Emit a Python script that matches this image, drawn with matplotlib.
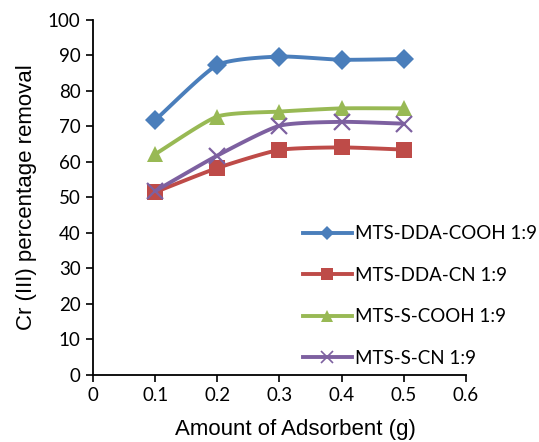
import numpy as np
import matplotlib
matplotlib.use("Agg")
import matplotlib.pyplot as plt

amount = [0.1, 0.2, 0.3, 0.4, 0.5]
dda_cooh = [71.8, 87.3, 89.7, 88.8, 89.0]
dda_cn = [51.5, 58.3, 63.4, 64.1, 63.5]
s_cooh = [62.2, 72.8, 74.2, 75.1, 75.1]
s_cn = [51.8, 61.8, 70.2, 71.3, 70.8]

labels = ['MTS-DDA-COOH 1:9', 'MTS-DDA-CN 1:9', 'MTS-S-COOH 1:9', 'MTS-S-CN 1:9']
colors = ['#4A7EBB', '#BE4B48', '#98B954', '#7D60A0']
markers = ['D', 's', '^', 'x']
msizes = [10, 12, 12, 12]


def smooth(x, y, n=30):
    # Catmull-Rom style curve through the points, like Excel's smoothed line
    x = np.asarray(x, float)
    y = np.asarray(y, float)
    px = np.concatenate([[2 * x[0] - x[1]], x, [2 * x[-1] - x[-2]]])
    py = np.concatenate([[2 * y[0] - y[1]], y, [2 * y[-1] - y[-2]]])
    xs, ys = [], []
    t = np.linspace(0, 1, n)
    for i in range(1, len(px) - 2):
        for p, out in ((px, xs), (py, ys)):
            p0, p1, p2, p3 = p[i - 1], p[i], p[i + 1], p[i + 2]
            m1 = (p2 - p0) / 2 * 0.6
            m2 = (p3 - p1) / 2 * 0.6
            h00 = 2 * t**3 - 3 * t**2 + 1
            h10 = t**3 - 2 * t**2 + t
            h01 = -2 * t**3 + 3 * t**2
            h11 = t**3 - t**2
            out.extend(h00 * p1 + h10 * m1 + h01 * p2 + h11 * m2)
    return xs, ys


fig = plt.figure(figsize=(5.39, 4.42), dpi=100)
ax = fig.add_axes([0.1725, 0.1516, 0.692, 0.8032])

handles = []
for ys, lab, c, m, ms in zip([dda_cooh, dda_cn, s_cooh, s_cn], labels, colors, markers, msizes):
    sx, sy = smooth(amount, ys)
    ax.plot(sx, sy, color=c, lw=2.8, solid_capstyle='round')
    ax.plot(amount, ys, ls='none', marker=m, color=c, ms=ms, mew=1.6 if m == 'x' else 0)
    h, = ax.plot([], [], color=c, lw=2.8, marker=m, ms=ms * 0.75, mew=1.2 if m == 'x' else 0, label=lab)
    handles.append(h)

ax.set_xlim(0, 0.6)
ax.set_ylim(0, 100)
ax.set_xticks(np.arange(0, 0.61, 0.1))
ax.set_xticklabels(['0', '0.1', '0.2', '0.3', '0.4', '0.5', '0.6'])
ax.set_yticks(range(0, 101, 10))
for s in ['top', 'right']:
    ax.spines[s].set_visible(False)
for s in ['left', 'bottom']:
    ax.spines[s].set_linewidth(1.3)
ax.tick_params(direction='out', length=5, width=1.2, labelsize=13.5, pad=4)
for t in ax.get_xticklabels() + ax.get_yticklabels():
    t.set_family('Lato')

ax.set_xlabel('Amount of Adsorbent (g)', fontsize=16, family='Liberation Sans', labelpad=10)
ax.xaxis.set_label_coords(0.544, -0.125)
ax.set_ylabel('Cr (III) percentage removal', fontsize=16, family='Liberation Sans', labelpad=8)

fig.legend(handles=handles, loc='upper left', bbox_to_anchor=(0.562, 0.49),
           frameon=False, prop={'family': 'Lato', 'size': 13.5},
           handlelength=2.6, handletextpad=0.2, labelspacing=1.3,
           borderpad=0, borderaxespad=0)

fig.savefig('out.png', dpi=100)
